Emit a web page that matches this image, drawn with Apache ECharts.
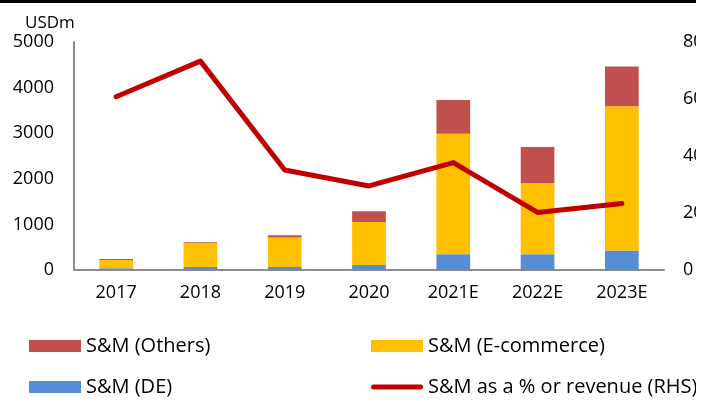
<!DOCTYPE html>
<html>
<head>
<meta charset="utf-8">
<script src="https://cdn.jsdelivr.net/npm/echarts@6/dist/echarts.min.js"></script>
<style>
  html, body { margin: 0; padding: 0; background: #fff; }
  #chart { width: 696px; height: 401px; }
</style>
</head>
<body>
<div id="chart"></div>
<script>
	var years = ['2017', '2018', '2019', '2020', '2021E', '2022E', '2023E'];
	var smDE = [40, 65, 65, 110, 345, 345, 425];
	var smEcom = [180, 525, 645, 945, 2645, 1555, 3165];
	var smOthers = [20, 20, 50, 235, 740, 795, 875];
	var smPctRev = [60.8, 73.3, 35.1, 29.5, 37.7, 20.2, 23.3];

	var FONT = '"Open Sans", sans-serif';
	// rounded bar used as the legend icon of the line series
	var LINE_ICON = 'path://M2.5,0 L49.5,0 A2.5,2.5 0 0 1 49.5,5 L2.5,5 A2.5,2.5 0 0 1 2.5,0 Z';

	var chart = echarts.init(document.getElementById('chart'));

	var option = {
	    animation: false,
	    backgroundColor: '#fff',
	    textStyle: { fontFamily: FONT, color: '#000' },
	    title: {
	        text: 'USDm',
	        left: 20,
	        top: 10,
	        textStyle: { fontFamily: FONT, fontSize: 17, fontWeight: 'normal', color: '#000' }
	    },
	    graphic: [
	        // black rule across the top
	        { type: 'rect', left: 0, top: 0, shape: { width: 696, height: 3 }, style: { fill: '#000' } }
	    ],
	    legend: [
	        {
	            left: 29,
	            top: 336,
	            height: 80,
	            padding: 0,
	            orient: 'vertical',
	            itemWidth: 52,
	            itemHeight: 12,
	            itemGap: 21,
	            icon: 'rect',
	            textStyle: { fontFamily: FONT, fontSize: 20, lineHeight: 20, color: '#000' },
	            data: ['S&M (Others)', 'S&M (DE)']
	        },
	        {
	            left: 371,
	            top: 336,
	            height: 80,
	            padding: 0,
	            orient: 'vertical',
	            itemWidth: 52,
	            itemHeight: 12,
	            itemGap: 21,
	            textStyle: { fontFamily: FONT, fontSize: 20, lineHeight: 20, color: '#000' },
	            data: [
	                { name: 'S&M (E-commerce)', icon: 'rect' },
	                { name: 'S&M as a % or revenue (RHS)', icon: LINE_ICON }
	            ]
	        }
	    ],
	    grid: {
	        left: 74, top: 42, width: 590, height: 228,
	        containLabel: false,
	        outerBoundsMode: 'none'
	    },
	    xAxis: {
	        type: 'category',
	        data: years,
	        axisLine: { lineStyle: { color: '#8c8c8c', width: 2 } },
	        axisTick: { show: false },
	        axisLabel: { fontFamily: FONT, fontSize: 18, color: '#000', margin: 14 }
	    },
	    yAxis: [
	        {
	            type: 'value',
	            min: 0,
	            max: 5000,
	            interval: 1000,
	            axisLine: { show: true, lineStyle: { color: '#8c8c8c', width: 2 } },
	            axisTick: { show: false },
	            splitLine: { show: false },
	            axisLabel: {
	                fontFamily: FONT, fontSize: 18, color: '#000', margin: 20,
	                formatter: function (v) { return String(v); }
	            }
	        },
	        {
	            type: 'value',
	            min: 0,
	            max: 80,
	            interval: 20,
	            position: 'right',
	            axisLine: { show: false },
	            axisTick: { show: false },
	            splitLine: { show: false },
	            axisLabel: { fontFamily: FONT, fontSize: 18, color: '#000', margin: 19 }
	        }
	    ],
	    series: [
	        {
	            name: 'S&M (DE)',
	            type: 'bar',
	            stack: 'sm',
	            barWidth: '40%',
	            itemStyle: { color: '#558ED5' },
	            data: smDE
	        },
	        {
	            name: 'S&M (E-commerce)',
	            type: 'bar',
	            stack: 'sm',
	            itemStyle: { color: '#FFC000' },
	            data: smEcom
	        },
	        {
	            name: 'S&M (Others)',
	            type: 'bar',
	            stack: 'sm',
	            itemStyle: { color: '#C0504D' },
	            data: smOthers
	        },
	        {
	            name: 'S&M as a % or revenue (RHS)',
	            type: 'line',
	            yAxisIndex: 1,
	            symbol: 'none',
	            z: 5,
	            itemStyle: { color: '#C00000' },
	            lineStyle: { color: '#C00000', width: 5, cap: 'round', join: 'round' },
	            data: smPctRev
	        }
	    ]
	};

	chart.setOption(option);
</script>
</body>
</html>
